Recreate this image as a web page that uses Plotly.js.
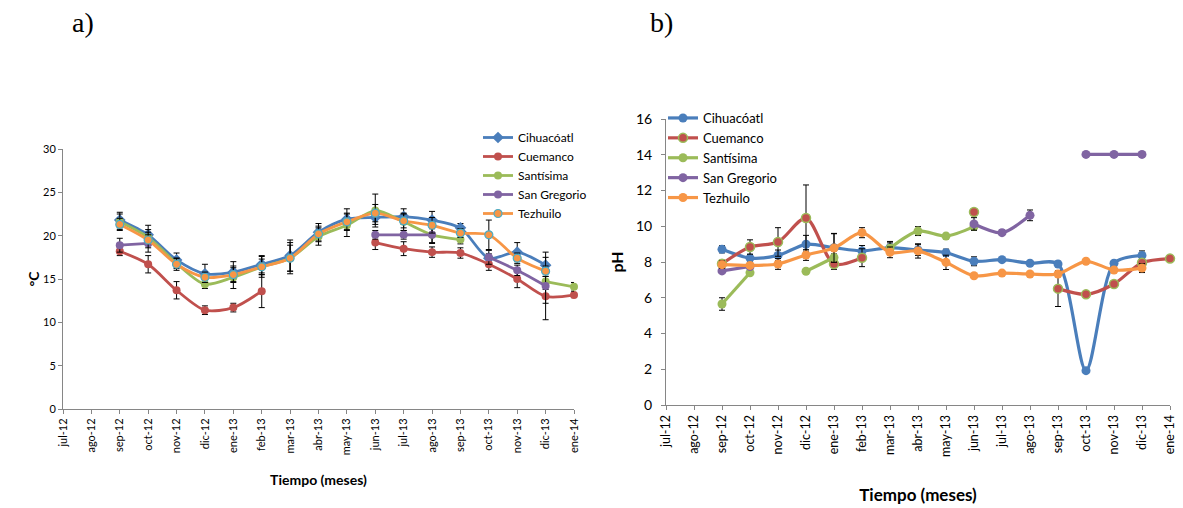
<!DOCTYPE html>
<html>
<head>
<meta charset="utf-8">
<script src="https://cdn.plot.ly/plotly-3.0.1.min.js"></script>
<style>html,body{margin:0;padding:0;background:#fff;}#chart{width:1183px;height:508px;}</style>
</head>
<body>
<div id="chart"></div>
<script>
// Month categories (shared by both panels)
const months = ["jul-12","ago-12","sep-12","oct-12","nov-12","dic-12","ene-13","feb-13","mar-13","abr-13","may-13","jun-13","jul-13","ago-13","sep-13","oct-13","nov-13","dic-13","ene-14"];
const seriesNames = ["Cihuacóatl","Cuemanco","Santísima","San Gregorio","Tezhuilo"];

// a) Temperature (°C)
const tempCihuacoatl = [null,null,21.8,20.1,17.2,15.6,15.8,16.7,17.7,20.4,21.9,22.1,22.2,21.8,20.9,17.4,18.1,16.6,null];
const tempCuemanco   = [null,null,18.2,16.7,13.7,11.4,11.7,13.6,null,null,null,19.2,18.5,18.1,18.0,16.7,15.0,13.0,13.15];
const tempSantisima  = [null,null,21.6,19.8,16.8,14.4,15.2,16.4,17.4,19.9,21.2,22.9,21.6,20.1,19.55,null,null,14.7,14.1];
const tempSanGregorio= [null,null,18.9,19.1,null,null,null,null,null,null,null,20.1,20.1,20.1,null,17.5,16.0,14.2,null];
const tempTezhuilo   = [null,null,21.3,19.5,16.7,15.2,15.5,16.4,17.4,20.2,21.6,22.6,21.7,21.2,20.3,20.1,17.4,15.9,null];

const tempErrCihuacoatl = [0,0,0.9,1.1,0.8,1.1,1.2,1.0,1.8,1.0,1.2,0.8,0.9,1.0,0.5,0.5,1.1,0.9,0];
const tempErrCuemanco   = [0,0,0.5,1.0,1.0,0.5,0.5,1.9,0,0,0,0.8,0.8,0.6,0.6,0.7,1.0,0.8,0.3];
const tempErrSantisima  = [0,0,0.9,0.9,0.6,0.5,1.3,1.2,1.5,1.0,1.3,1.9,1.0,1.0,0.5,0,0,0.6,0.5];
const tempErrSanGregorio= [0,0,0.8,1.0,0,0,0,0,0,0,0,0.5,0.5,0.9,0,0.8,0.6,3.9,0];
const tempErrTezhuilo   = [0,0,0.7,0.9,0.7,0.6,0.8,0.9,1.8,0.9,1.0,1.0,0.8,0.9,0.5,1.7,0.6,0.6,0];

// b) pH
const phCihuacoatl = [null,null,8.71,8.22,8.37,8.99,8.8,8.62,8.8,8.67,8.52,8.04,8.13,7.93,7.89,1.92,7.93,8.37,null];
const phCuemanco   = [null,null,7.9,8.84,9.12,10.46,7.89,8.24,null,null,null,10.8,null,null,6.51,6.19,6.77,7.96,8.19];
const phSantisima  = [null,null,5.65,7.4,null,7.48,8.25,null,8.77,9.73,9.45,9.98,null,null,null,null,null,null,null];
const phSanGregorio= [null,null,7.5,7.75,null,null,null,null,null,null,null,10.13,9.64,10.61,null,14.02,14.02,14.02,null];
const phTezhuilo   = [null,null,7.85,7.81,7.89,8.39,8.78,9.64,8.54,8.62,7.98,7.23,7.38,7.33,7.33,8.04,7.55,7.66,null];

const phErrCihuacoatl = [0,0,0.2,0.2,0.3,0.5,0.8,0.3,0.35,0.3,0.2,0.25,0.1,0.1,0.15,0.1,0.1,0.25,0];
const phErrCuemanco   = [0,0,0.2,0.4,0.8,1.85,0.3,0.5,0,0,0,0.1,0,0,1.0,0.1,0.1,0.2,0.1];
const phErrSantisima  = [0,0,0.35,0.1,0,0.1,0.2,0,0.3,0.25,0.15,0.2,0,0,0,0,0,0,0];
const phErrSanGregorio= [0,0,0.1,0.1,0,0,0,0,0,0,0,0.35,0.15,0.3,0,0,0,0,0];
const phErrTezhuilo   = [0,0,0.2,0.1,0.3,0.3,0.8,0.28,0.3,0.4,0.4,0.1,0.1,0.1,0.1,0.1,0.1,0.25,0];

const colors = ["#4A7EBB","#C0504D","#9BBB59","#8064A2","#F79646"];
const FONT = "Lato, 'Open Sans', sans-serif";

const tempData = [tempCihuacoatl,tempCuemanco,tempSantisima,tempSanGregorio,tempTezhuilo];
const tempErr  = [tempErrCihuacoatl,tempErrCuemanco,tempErrSantisima,tempErrSanGregorio,tempErrTezhuilo];
const phData = [phCihuacoatl,phCuemanco,phSantisima,phSanGregorio,phTezhuilo];
const phErr  = [phErrCihuacoatl,phErrCuemanco,phErrSantisima,phErrSanGregorio,phErrTezhuilo];

const traces = [];
for (let i = 0; i < 5; i++) {
  traces.push({
    type: "scatter", mode: "lines+markers", name: seriesNames[i],
    x: months, y: tempData[i], xaxis: "x", yaxis: "y",
    connectgaps: false, cliponaxis: false, legend: "legend",
    line: {color: colors[i], width: 2.8, shape: "spline", smoothing: 0.8},
    marker: {
      color: colors[i], size: i === 0 ? 9 : 8, symbol: i === 0 ? "diamond" : "circle",
      line: {color: i === 4 ? "#4BACC6" : colors[i], width: i === 4 ? 1.2 : 0}
    },
    error_y: {type: "data", array: tempErr[i], visible: true, color: "#000", thickness: 1, width: 3}
  });
}
for (let i = 0; i < 5; i++) {
  traces.push({
    type: "scatter", mode: "lines+markers", name: seriesNames[i],
    x: months, y: phData[i], xaxis: "x2", yaxis: "y2",
    connectgaps: false, cliponaxis: false, legend: "legend2",
    line: {color: colors[i], width: 3.2, shape: "spline", smoothing: 0.8},
    marker: {
      color: colors[i], size: 9, symbol: "circle",
      line: {color: i === 1 ? "#9BBB59" : colors[i], width: i === 1 ? 1.5 : 0}
    },
    error_y: {type: "data", array: phErr[i], visible: true, color: "#000", thickness: 1, width: 3}
  });
}

const axisLine = "#868686";
const layout = {
  width: 1183, height: 508,
  margin: {l: 0, r: 0, t: 0, b: 0},
  paper_bgcolor: "#fff", plot_bgcolor: "#fff",
  font: {family: FONT, color: "#000", size: 11},
  showlegend: true,
  xaxis: {
    domain: [63/1183, 574/1183], type: "category", range: [0, 18],
    tickmode: "array", tickvals: months, ticktext: months, tickangle: -90,
    showline: true, linecolor: axisLine, linewidth: 1, ticks: "outside", ticklen: 4, tickcolor: axisLine,
    showgrid: false, zeroline: false, tickfont: {size: 11, family: FONT},
    title: {text: "<b>Tiempo (meses)</b>", font: {size: 14, family: FONT}, standoff: 20},
    anchor: "y", fixedrange: true
  },
  yaxis: {
    domain: [1 - 409/508, 1 - 149/508], range: [0, 30], tickvals: [0,5,10,15,20,25,30],
    showline: true, linecolor: axisLine, linewidth: 1, ticks: "outside", ticklen: 4, tickcolor: axisLine,
    showgrid: false, zeroline: false, tickfont: {size: 11, family: FONT},
    title: {text: "<b>°C</b>", font: {size: 14, family: FONT}, standoff: 0},
    anchor: "x"
  },
  xaxis2: {
    domain: [666/1183, 1170/1183], type: "category", range: [0, 18],
    tickmode: "array", tickvals: months, ticktext: months, tickangle: -90,
    showline: true, linecolor: axisLine, linewidth: 1, ticks: "outside", ticklen: 4, tickcolor: axisLine,
    showgrid: false, zeroline: false, tickfont: {size: 12.5, family: FONT},
    title: {text: "<b>Tiempo (meses)</b>", font: {size: 17, family: FONT}, standoff: 33},
    anchor: "y2"
  },
  yaxis2: {
    domain: [1 - 405/508, 1 - 119/508], range: [0, 16], tickvals: [0,2,4,6,8,10,12,14,16],
    showline: true, linecolor: axisLine, linewidth: 1, ticks: "outside", ticklen: 4, tickcolor: axisLine,
    showgrid: false, zeroline: false, tickfont: {size: 14, family: FONT}, ticklabelstandoff: 6,
    title: {text: "<b>pH</b>", font: {size: 16, family: FONT}, standoff: 8},
    anchor: "x2"
  },
  legend: {
    x: 478/1183, y: 1 - 123/508, xanchor: "left", yanchor: "top",
    bgcolor: "rgba(0,0,0,0)", borderwidth: 0, font: {size: 12, family: FONT},
    tracegroupgap: 0, itemwidth: 30
  },
  legend2: {
    x: 663/1183, y: 1 - 103/508, xanchor: "left", yanchor: "top",
    bgcolor: "rgba(0,0,0,0)", borderwidth: 0, font: {size: 13, family: FONT},
    tracegroupgap: 0, itemwidth: 30
  },
  annotations: [
    {text: "a)", x: 70/1183, y: 1 - 22/508, xref: "paper", yref: "paper", xanchor: "left", yanchor: "middle",
     showarrow: false, font: {family: "Liberation Serif, serif", size: 28, color: "#000"}},
    {text: "b)", x: 648/1183, y: 1 - 22/508, xref: "paper", yref: "paper", xanchor: "left", yanchor: "middle",
     showarrow: false, font: {family: "Liberation Serif, serif", size: 28, color: "#000"}}
  ]
};

Plotly.newPlot("chart", traces, layout, {displayModeBar: false, staticPlot: true});
</script>
</body>
</html>
